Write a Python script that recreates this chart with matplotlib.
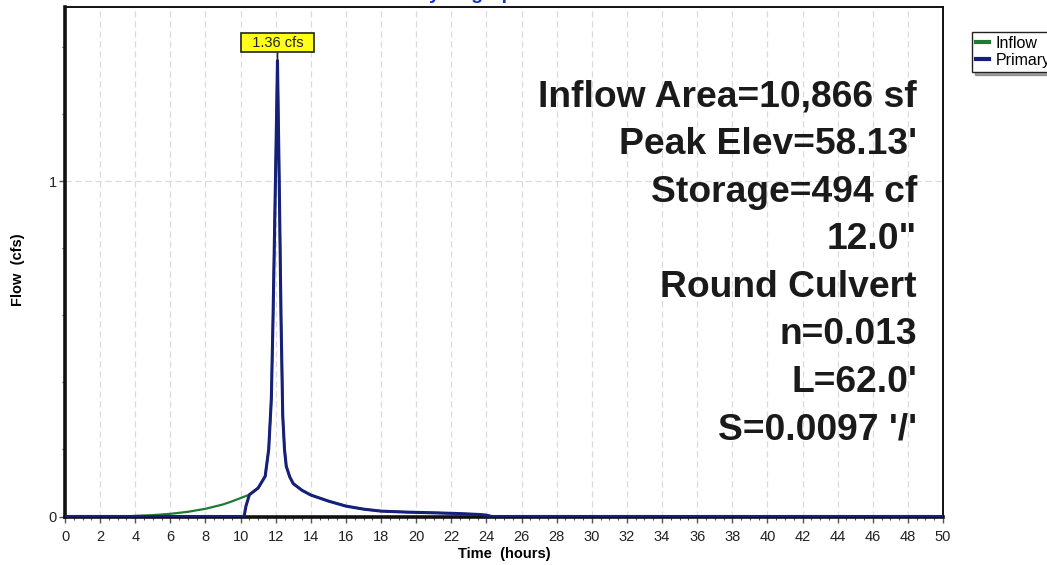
import matplotlib
matplotlib.use("Agg")
import matplotlib.pyplot as plt
from matplotlib.ticker import MultipleLocator

plt.rcParams['font.family'] = ['Liberation Sans', 'DejaVu Sans']

# Hydrograph ordinates (hours, cfs)
inflow_t = [0.0, 3.5, 4.0, 5.0, 6.0, 7.0, 8.0, 9.0, 9.5, 10.0, 10.5, 11.0, 11.4, 11.6,
            11.75, 11.85, 11.95, 12.05, 12.1, 12.2, 12.3, 12.4, 12.5, 12.6, 12.8, 13.0,
            13.5, 14.0, 15.0, 16.0, 17.0, 18.0, 19.5, 21.0, 22.3, 23.6, 24.0, 24.3, 50.0]
inflow_q = [0.0, 0.0, 0.002, 0.004, 0.008, 0.014, 0.023, 0.036, 0.045, 0.055, 0.065,
            0.085, 0.12, 0.20, 0.35, 0.60, 0.90, 1.20, 1.36, 1.00, 0.60, 0.30, 0.20,
            0.15, 0.118, 0.098, 0.078, 0.064, 0.046, 0.031, 0.022, 0.016, 0.013,
            0.011, 0.009, 0.006, 0.004, 0.0, 0.0]

primary_t = [0.0, 10.2, 10.3, 10.5, 11.0, 11.4, 11.6, 11.75, 11.85, 11.95, 12.05, 12.1,
             12.2, 12.3, 12.4, 12.5, 12.6, 12.8, 13.0, 13.5, 14.0, 15.0, 16.0, 17.0,
             18.0, 19.5, 21.0, 22.3, 23.6, 24.0, 24.3, 50.0]
primary_q = [0.0, 0.0, 0.03, 0.065, 0.085, 0.12, 0.20, 0.35, 0.60, 0.90, 1.20, 1.36,
             1.00, 0.60, 0.30, 0.20, 0.15, 0.118, 0.098, 0.078, 0.064, 0.046, 0.031,
             0.022, 0.016, 0.013, 0.011, 0.009, 0.006, 0.004, 0.0, 0.0]

peak_flow = 1.36
peak_time = 12.1

x_ticks = list(range(0, 51, 2))
y_ticks = [0, 1]

info_lines = ["Inflow Area=10,866 sf", "Peak Elev=58.13'", "Storage=494 cf", '12.0"',
              "Round Culvert", "n=0.013", "L=62.0'", "S=0.0097 '/'"]

W, H = 1047, 565
fig = plt.figure(figsize=(W / 100, H / 100), dpi=100)
ax = fig.add_axes([65 / W, 1 - 516.5 / H, 878 / W, 509.5 / H])

green = '#1e7b30'
navy = '#16207a'

ax.plot(inflow_t, inflow_q, color=green, lw=1.6, label='Inflow', zorder=3)
ax.plot(primary_t, primary_q, color=navy, lw=2.2, label='Primary', zorder=4)

ax.set_xlim(0, 50)
ax.set_ylim(0, 1.52)
ax.set_xticks(x_ticks)
ax.set_yticks(y_ticks)
ax.xaxis.set_minor_locator(MultipleLocator(0.5))
ax.yaxis.set_minor_locator(MultipleLocator(0.2))
ax.tick_params(axis='both', which='major', direction='out', length=4, width=1,
               labelsize=10.5, labelcolor='#222222', color='#555555')
ax.tick_params(axis='both', which='minor', direction='out', length=2.5, width=0.8,
               color='#555555')
ax.tick_params(axis='x', pad=6)
ax.tick_params(axis='y', pad=2)

ax.grid(True, which='major', color='#dadada', lw=0.9, ls=(0, (5, 3)))
ax.set_axisbelow(True)

for side, lw in [('left', 2.6), ('bottom', 2.6), ('top', 1.4), ('right', 1.4)]:
    ax.spines[side].set_linewidth(lw)
    ax.spines[side].set_color('#111111')

ax.set_xlabel('Time  (hours)', fontsize=10.5, fontweight='bold', labelpad=2)
fig.text(18 / W, 1 - 270 / H, 'Flow  (cfs)', rotation=90, fontsize=10.5,
         fontweight='bold', ha='center', va='center')

# Peak flow tag
ax.annotate(f'  {peak_flow:.2f} cfs  ', xy=(peak_time, peak_flow), xytext=(0, 8),
            textcoords='offset points', ha='center', va='bottom', fontsize=10.5,
            color='#222222',
            bbox=dict(boxstyle='square,pad=0.2', fc='#ffff1a', ec='#222222', lw=1.2),
            arrowprops=dict(arrowstyle='-', color='#222222', lw=1.2,
                            shrinkA=0, shrinkB=0),
            zorder=6)

# Summary block
baselines = [106.7, 154.2, 201.7, 249.2, 296.7, 344.2, 391.7, 439.2]
for txt, b in zip(info_lines, baselines):
    fig.text(917 / W, 1 - b / H, txt, ha='right', va='baseline', fontsize=26.8,
             fontweight='bold', color='#1a1a1a', zorder=7)

# Title line (clipped by the top edge)
fig.text(471 / W, 1 + 1 / H, 'Hydrograph', ha='center', va='baseline', fontsize=14,
         fontweight='bold', color='#1432c8')

# Legend with drop shadow outside the plot
leg = fig.legend(loc='upper left', bbox_to_anchor=(972 / W, 1 - 32 / H),
                 fontsize=11.5, frameon=True, fancybox=False, shadow=True,
                 handlelength=0.8, handletextpad=0.45, borderpad=0.25,
                 labelspacing=0.12, borderaxespad=0)
leg.get_frame().set_edgecolor('#222222')
leg.get_frame().set_linewidth(1.0)
for line in leg.get_lines():
    line.set_linewidth(3)

fig.savefig('out.png', dpi=100, facecolor='white')
